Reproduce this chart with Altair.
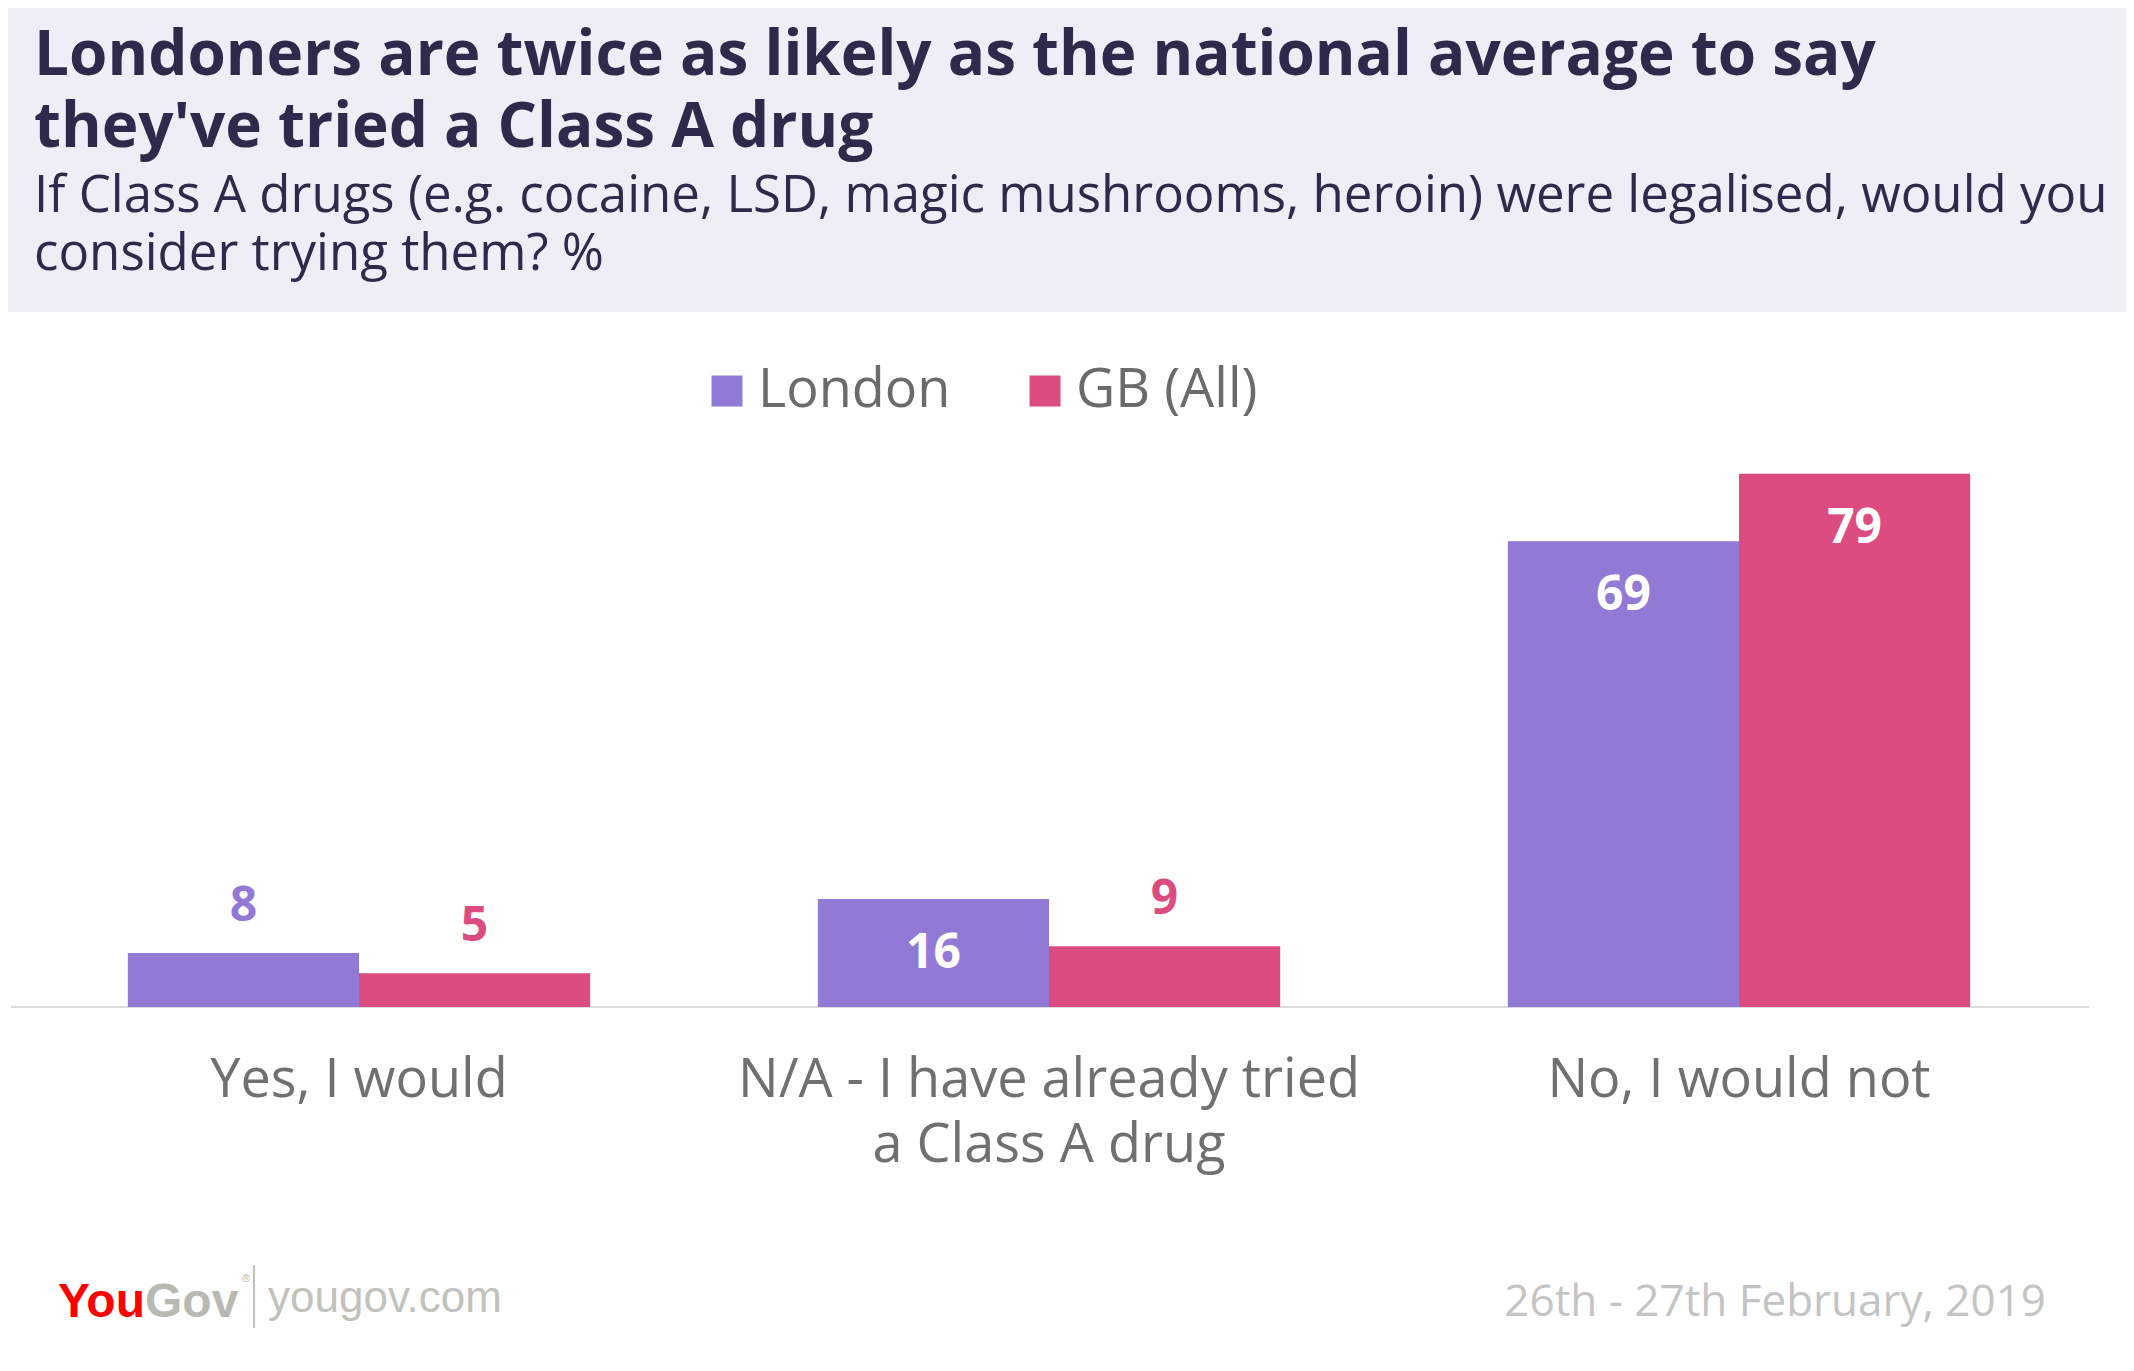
import altair as alt
import pandas as pd

# ---- data ----
categories = ["Yes, I would", "N/A - I have already tried\na Class A drug", "No, I would not"]
series = ["London", "GB (All)"]
london = [8, 16, 69]
gb_all = [5, 9, 79]
colors = ["#9179D5", "#DC4C80"]

title_lines = ["Londoners are twice as likely as the national average to say", "they've tried a Class A drug"]
subtitle_lines = ["If Class A drugs (e.g. cocaine, LSD, magic mushrooms, heroin) were legalised, would you",
                  "consider trying them? %"]
date_text = "26th - 27th February, 2019"
site_text = "yougov.com"
logo_a = "You"
logo_b = "Gov"

W, H = 2118, 1355
FONT = "Open Sans"

rows = []
for c, l, g in zip(categories, london, gb_all):
    rows.append({"category": c, "series": series[0], "value": l})
    rows.append({"category": c, "series": series[1], "value": g})
df = pd.DataFrame(rows)

x_scale = alt.Scale(domain=categories, range=[6, 2076], paddingInner=0.33, paddingOuter=0.165)
y_scale = alt.Scale(domain=[0, 100], range=[999, 324])
color_scale = alt.Scale(domain=series, range=colors)

base = alt.Chart(df).encode(
    x=alt.X("category:N", scale=x_scale, axis=None),
    xOffset=alt.XOffset("series:N", scale=alt.Scale(domain=series)),
    y=alt.Y("value:Q", scale=y_scale, axis=None),
)

bars = base.mark_bar().encode(
    color=alt.Color(
        "series:N",
        scale=color_scale,
        legend=alt.Legend(
            orient="none", legendX=692, legendY=356, direction="horizontal", title=None,
            symbolType="square", symbolSize=961, symbolStrokeWidth=0, symbolOpacity=1,
            labelFont=FONT, labelFontSize=54, labelColor="#6b6b6b", labelOffset=4,
            columnPadding=67, labelLimit=400,
        ),
    )
)

labels_in = base.transform_filter("datum.value > 12").mark_text(
    font=FONT, fontWeight="bold", fontSize=48, color="white", baseline="middle", dy=55
).encode(text="value:Q")

labels_out = base.transform_filter("datum.value <= 12").mark_text(
    font=FONT, fontWeight="bold", fontSize=48, baseline="middle", dy=-46
).encode(text="value:Q", color=alt.Color("series:N", scale=color_scale, legend=None))

axis_line = alt.Chart(pd.DataFrame({"value": [0]})).mark_rule(color="#dcdcdc", strokeWidth=2).encode(
    y=alt.Y("value:Q", scale=y_scale, axis=None), x=alt.value(3), x2=alt.value(2081)
)

cat_labels = alt.Chart(pd.DataFrame({"category": categories})).mark_text(
    font=FONT, fontSize=54, color="#707070", align="center", baseline="alphabetic",
    lineBreak="\n", lineHeight=65,
).encode(
    x=alt.X("category:N", scale=x_scale, axis=None),
    y=alt.value(1089),
    text="category:N",
)

header = alt.Chart(pd.DataFrame({"a": [0]})).mark_rect(color="#EFEDF6").encode(
    x=alt.value(0), x2=alt.value(W), y=alt.value(0), y2=alt.value(304)
)


def text_layer(txt, x, y, **kw):
    return alt.Chart(pd.DataFrame({"t": [txt]})).mark_text(baseline="alphabetic", **kw).encode(
        x=alt.value(x), y=alt.value(y), text="t:N"
    )


title1 = text_layer(title_lines[0], 26, 67, font=FONT, fontWeight="bold", fontSize=62,
                    color="#2f2a4b", align="left")
title2 = text_layer(title_lines[1], 26, 139, font=FONT, fontWeight="bold", fontSize=62,
                    color="#2f2a4b", align="left")
sub1 = text_layer(subtitle_lines[0], 26, 204, font=FONT, fontSize=51, color="#2f2a4b", align="left")
sub2 = text_layer(subtitle_lines[1], 26, 262, font=FONT, fontSize=51, color="#2f2a4b", align="left")
date = text_layer(date_text, 2038, 1308, font=FONT, fontSize=44, color="#c4c4c4", align="right")
logo1 = text_layer(logo_a, 137, 1309, font="Liberation Sans", fontWeight="bold", fontSize=48,
                   color="#ff0000", align="right")
logo2 = text_layer(logo_b, 137, 1309, font="Liberation Sans", fontWeight="bold", fontSize=48,
                   color="#b9b9b3", align="left")
reg = text_layer("®", 234, 1274, font="Liberation Sans", fontSize=11, color="#b9b9b3", align="left")
site = text_layer(site_text, 260, 1304, font="Liberation Sans", fontSize=44, color="#c2c2bd", align="left")
sep = alt.Chart(pd.DataFrame({"a": [0]})).mark_rule(color="#c2c2bd", strokeWidth=2).encode(
    x=alt.value(246), y=alt.value(1257), y2=alt.value(1320)
)

chart = alt.layer(
    header, axis_line, bars, labels_in, labels_out, cat_labels,
    title1, title2, sub1, sub2, date, logo1, logo2, reg, site, sep,
).properties(
    width=W, height=H, autosize=alt.AutoSizeParams(type="none"), padding=0, background="white"
).configure_view(strokeWidth=0)

chart.save("out.html", embed_options={"renderer": "svg", "actions": False})
